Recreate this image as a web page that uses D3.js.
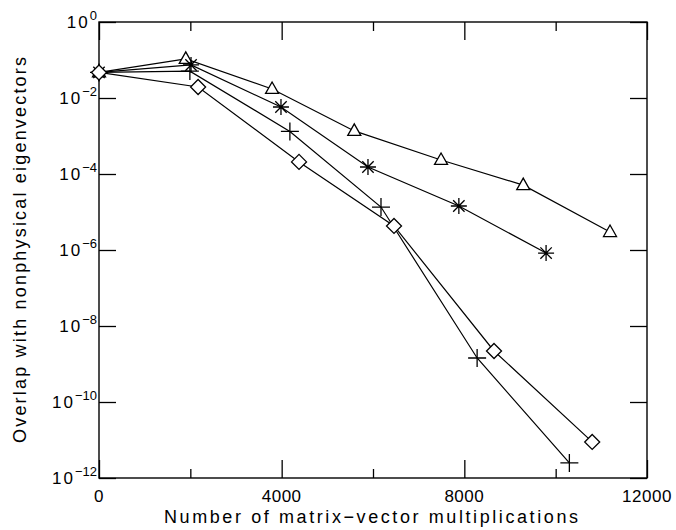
<!DOCTYPE html>
<html>
<head>
<meta charset="utf-8">
<script src="https://cdn.jsdelivr.net/npm/d3@7"></script>
<style>
  body { margin: 0; background: #fff; }
  svg text { font-family: "Liberation Sans", Helvetica, Arial, sans-serif; fill: #000; }
</style>
</head>
<body>
<div id="chart"></div>
<script>
// Log-scale convergence plot, four marker series

const xMajorTicks = [0, 4000, 8000, 12000];
const xMinorTicks = [2000, 6000, 10000];
const yTickExps = [0, -2, -4, -6, -8, -10, -12];

const triX = [0, 1900, 3790, 5590, 7490, 9290, 11190];
const triY = [0.047, 0.107, 0.0173, 1.36e-3, 2.34e-4, 5.1e-5, 2.97e-6];

const starX = [0, 2015, 3985, 5890, 7880, 9790];
const starY = [0.047, 0.074, 5.8e-3, 1.53e-4, 1.44e-5, 8.3e-7];

const plusX = [0, 1990, 4180, 6175, 8280, 10300];
const plusY = [0.047, 0.051, 1.32e-3, 1.35e-5, 1.44e-9, 2.5e-12];

const diaX = [0, 2170, 4380, 6460, 8650, 10800];
const diaY = [0.047, 0.0195, 2.08e-4, 4.3e-6, 2.2e-9, 8.9e-12];

const series = [
  { key: "triangle", xs: triX, ys: triY },
  { key: "star", xs: starX, ys: starY },
  { key: "plus", xs: plusX, ys: plusY },
  { key: "diamond", xs: diaX, ys: diaY }
];

const width = 676, height = 530;
const margin = { top: 22, right: 29, bottom: 52, left: 99 };
const plot_width = width - margin.left - margin.right;
const plot_height = height - margin.top - margin.bottom;

const svg = d3.select("#chart").append("svg")
  .attr("width", width)
  .attr("height", height);

const plot = svg.append("g")
  .attr("transform", `translate(${margin.left},${margin.top})`);

const xScale = d3.scaleLinear().domain([0, 12000]).range([0, plot_width]);
const yScale = d3.scaleLog().domain([1e-12, 1]).range([plot_height, 0]);

// AXES — ticks point inward, on all four sides
const styleAxis = g => {
  g.select(".domain").remove();
  g.selectAll("line").attr("stroke", "#000").attr("stroke-width", 1.3);
  g.selectAll("text").remove();
};

plot.append("g").attr("transform", `translate(0,${plot_height})`)
  .call(d3.axisBottom(xScale).tickValues(xMajorTicks).tickSize(-18)).call(styleAxis);
plot.append("g").attr("transform", `translate(0,${plot_height})`)
  .call(d3.axisBottom(xScale).tickValues(xMinorTicks).tickSize(-9)).call(styleAxis);
plot.append("g")
  .call(d3.axisTop(xScale).tickValues(xMajorTicks).tickSize(-18)).call(styleAxis);
plot.append("g")
  .call(d3.axisTop(xScale).tickValues(xMinorTicks).tickSize(-9)).call(styleAxis);

const yTickVals = yTickExps.map(e => Math.pow(10, e));
plot.append("g")
  .call(d3.axisLeft(yScale).tickValues(yTickVals).tickSize(-17)).call(styleAxis);
plot.append("g").attr("transform", `translate(${plot_width},0)`)
  .call(d3.axisRight(yScale).tickValues(yTickVals).tickSize(-17)).call(styleAxis);

// Frame
plot.append("rect")
  .attr("width", plot_width)
  .attr("height", plot_height)
  .attr("fill", "none")
  .attr("stroke", "#000")
  .attr("stroke-width", 1.4);

// TICK LABELS
plot.selectAll(".xlab").data(xMajorTicks).join("text")
  .attr("x", d => xScale(d))
  .attr("y", plot_height + 24)
  .attr("text-anchor", "middle")
  .style("font-size", "17px")
  .style("letter-spacing", "0.5px")
  .text(d => d);

const ylab = plot.selectAll(".ylab").data(yTickExps).join("text")
  .attr("x", -2)
  .attr("y", d => yScale(Math.pow(10, d)) + 6)
  .attr("text-anchor", "end")
  .style("font-size", "17px");
ylab.append("tspan").style("letter-spacing", "2px").text("10");
ylab.append("tspan")
  .attr("dy", -8)
  .style("font-size", "13px")
  .text(d => d === 0 ? "0" : "\u2212" + Math.abs(d));

// AXIS TITLES
svg.append("text")
  .attr("x", margin.left + plot_width / 2 - 2)
  .attr("y", 523)
  .attr("text-anchor", "middle")
  .attr("textLength", 414)
  .attr("lengthAdjust", "spacing")
  .style("font-size", "18px")
  .text("Number of matrix\u2212vector multiplications");

svg.append("text")
  .attr("transform", `translate(26,${margin.top + plot_height / 2}) rotate(-90)`)
  .attr("text-anchor", "middle")
  .attr("textLength", 386)
  .attr("lengthAdjust", "spacing")
  .style("font-size", "18px")
  .text("Overlap with nonphysical eigenvectors");

// LINES
const lineGen = d3.line()
  .x(d => xScale(d[0]))
  .y(d => yScale(d[1]));

series.forEach(s => {
  const pts = s.xs.map((x, i) => [x, s.ys[i]]);
  plot.append("path")
    .datum(pts)
    .attr("d", lineGen)
    .attr("fill", "none")
    .attr("stroke", "#000")
    .attr("stroke-width", 1.2);
});

// MARKERS
const markerPath = {
  triangle: "M0,-7L6.5,4.5L-6.5,4.5Z",
  diamond: "M0,-7.5L7.5,0L0,7.5L-7.5,0Z",
  plus: "M-9,0H9M0,-9V9",
  star: "M-8,0H8M0,-8V8M-5.7,-5.7L5.7,5.7M-5.7,5.7L5.7,-5.7"
};

series.forEach(s => {
  const pts = s.xs.map((x, i) => [x, s.ys[i]]);
  plot.selectAll(null).data(pts).join("path")
    .attr("transform", d => `translate(${xScale(d[0])},${yScale(d[1])})`)
    .attr("d", markerPath[s.key])
    .attr("fill", s.key === "triangle" || s.key === "diamond" ? "#fff" : "none")
    .attr("stroke", "#000")
    .attr("stroke-width", 1.3);
});
</script>
</body>
</html>
